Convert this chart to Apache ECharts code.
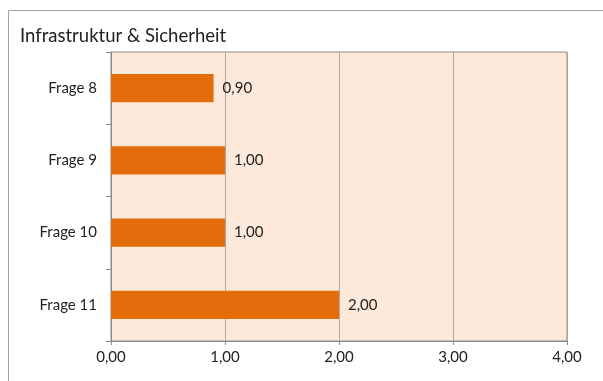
<!DOCTYPE html>
<html>
<head>
<meta charset="utf-8">
<script src="https://cdn.jsdelivr.net/npm/echarts@6/dist/echarts.min.js"></script>
<style>
  html, body { margin: 0; padding: 0; background: #fff; }
  #chart { width: 603px; height: 381px; }
</style>
</head>
<body>
<div id="chart"></div>
<script>
// Survey results: infrastructure & safety questions
const categories = ['Frage 8', 'Frage 9', 'Frage 10', 'Frage 11'];
const values = [0.90, 1.00, 1.00, 2.00];
const xTicks = [0, 1, 2, 3, 4];

const fmt = v => v.toFixed(2).replace('.', ',');
const font = 'Lato, "Open Sans", sans-serif';

const chart = echarts.init(document.getElementById('chart'));
chart.setOption({
  animation: false,
  backgroundColor: '#fff',
  title: {
    text: 'Infrastruktur & Sicherheit',
    left: 15, top: 22,
    textStyle: { fontFamily: font, fontSize: 18.5, fontWeight: 'normal', color: '#222' }
  },
  graphic: [
    // outer chart frame (top and left edges)
    { type: 'polyline', shape: { points: [[8.5, 381], [8.5, 10.5], [603, 10.5]] },
      style: { stroke: '#a0a0a0', lineWidth: 1, fill: null }, silent: true }
  ],
  grid: {
    left: 111, right: 36, top: 52, bottom: 40,
    show: true,
    backgroundColor: '#fce9da',
    borderColor: '#8a8a8a',
    borderWidth: 1
  },
  xAxis: {
    type: 'value',
    min: xTicks[0], max: xTicks[xTicks.length - 1], interval: 1,
    axisLine: { show: true, lineStyle: { color: '#8a8a8a' } },
    axisTick: { show: true, length: 4, lineStyle: { color: '#8a8a8a' } },
    splitLine: { show: true, lineStyle: { color: '#b0a8a0', width: 1 } },
    axisLabel: { formatter: fmt, fontFamily: font, fontSize: 15, color: '#222', margin: 9 }
  },
  yAxis: {
    type: 'category',
    data: categories,
    inverse: true,
    axisLine: { show: true, lineStyle: { color: '#8a8a8a' } },
    axisTick: { show: true, length: 5, lineStyle: { color: '#8a8a8a' } },
    axisLabel: { fontFamily: font, fontSize: 15, color: '#222', margin: 14 },
    splitLine: { show: false }
  },
  series: [{
    type: 'bar',
    data: values,
    barWidth: '39%',
    itemStyle: { color: '#e46c0a' },
    label: {
      show: true, position: 'right', distance: 9,
      formatter: p => fmt(p.value),
      fontFamily: font, fontSize: 15, color: '#222'
    }
  }]
});
</script>
</body>
</html>
